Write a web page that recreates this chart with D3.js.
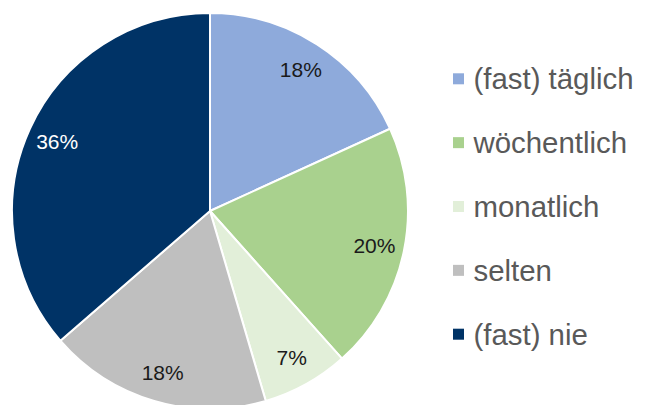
<!DOCTYPE html>
<html>
<head>
<meta charset="utf-8">
<script src="https://cdn.jsdelivr.net/npm/d3@7"></script>
<style>
  html, body { margin: 0; padding: 0; background: #ffffff; }
  svg { display: block; }
</style>
</head>
<body>
<svg id="chart" width="646" height="405"></svg>
<script>
// Nutzungshäufigkeit – Anteile in Prozent
const categories = ["(fast) täglich", "wöchentlich", "monatlich", "selten", "(fast) nie"];
const values = [18, 20, 7, 18, 36];
const colors = ["#8eaadb", "#a9d18e", "#e2efd9", "#bfbfbf", "#003366"];
const labelColors = ["#1a1a1a", "#1a1a1a", "#1a1a1a", "#1a1a1a", "#ffffff"];

const svg = d3.select("#chart");
const cx = 210, cy = 211, radius = 198, labelRadius = 168;

const pie = d3.pie().sort(null).value(d => d.value);
const data = categories.map((c, i) => ({ name: c, value: values[i], color: colors[i], text: labelColors[i] }));
const arcs = pie(data);

const arc = d3.arc().innerRadius(0).outerRadius(radius);
const labelArc = d3.arc().innerRadius(labelRadius).outerRadius(labelRadius);

const g = svg.append("g").attr("transform", `translate(${cx},${cy})`);

g.selectAll("path.slice")
  .data(arcs)
  .join("path")
  .attr("class", "slice")
  .attr("d", arc)
  .attr("fill", d => d.data.color)
  .attr("stroke", "#ffffff")
  .attr("stroke-width", 2)
  .attr("stroke-linejoin", "round");

g.selectAll("text.value")
  .data(arcs)
  .join("text")
  .attr("class", "value")
  .attr("transform", d => `translate(${labelArc.centroid(d)})`)
  .attr("text-anchor", "middle")
  .attr("dominant-baseline", "central")
  .attr("font-family", "Liberation Sans, Arial, sans-serif")
  .attr("font-size", 21)
  .attr("fill", d => d.data.text)
  .text(d => d.data.value + "%");

// Legende
const legendX = 453, legendY0 = 78.8, legendStep = 63.85;
const legend = svg.append("g");
const items = legend.selectAll("g.item")
  .data(data)
  .join("g")
  .attr("class", "item")
  .attr("transform", (d, i) => `translate(${legendX},${legendY0 + i * legendStep})`);

items.append("rect")
  .attr("x", 0)
  .attr("y", -5.5)
  .attr("width", 11)
  .attr("height", 11)
  .attr("fill", d => d.color);

items.append("text")
  .attr("x", 20.5)
  .attr("y", 10.5)
  .attr("font-family", "Liberation Sans, Arial, sans-serif")
  .attr("font-size", 29.4)
  .attr("fill", "#595959")
  .text(d => d.name);
</script>
</body>
</html>
